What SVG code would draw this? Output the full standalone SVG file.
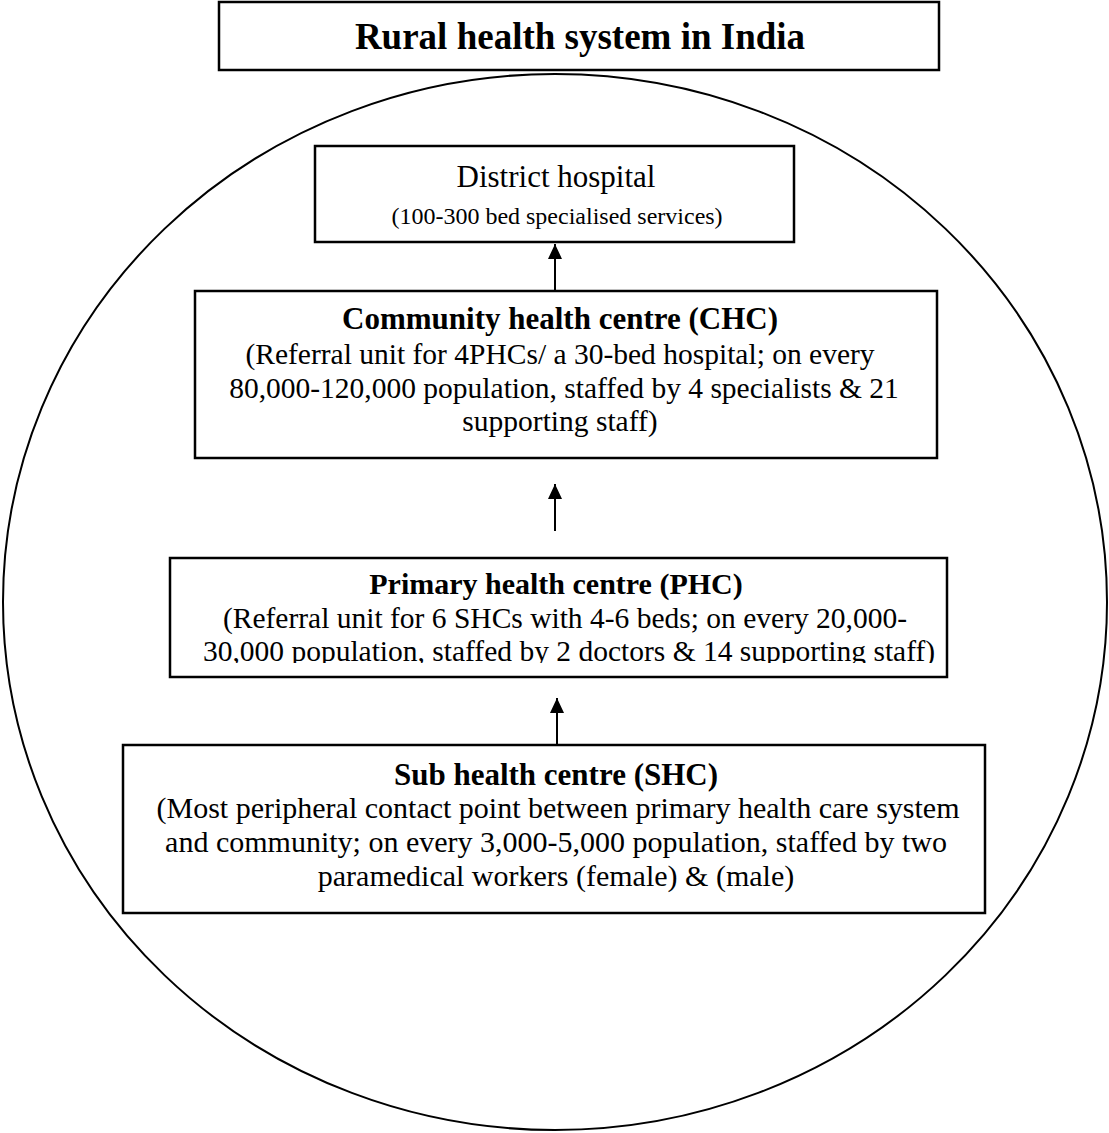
<svg xmlns="http://www.w3.org/2000/svg" width="1109" height="1133" viewBox="0 0 1109 1133">
<style>
  .box { fill: #fff; stroke: #000; stroke-width: 2.5; }
  .t { font-family: "Liberation Serif", "Times New Roman", serif; fill: #000; text-anchor: middle; }
  .b { font-weight: bold; }
  .conn { stroke: #000; stroke-width: 2; fill: none; }
</style>
<defs>
  <marker id="ah" viewBox="0 0 15 14" refX="15" refY="7" markerWidth="15" markerHeight="14" markerUnits="userSpaceOnUse" orient="auto">
    <path d="M0,0 L15,7 L0,14 Z" fill="#000"/>
  </marker>
  <clipPath id="phcclip"><rect x="170" y="558" width="777" height="105"/></clipPath>
</defs>
<rect width="1109" height="1133" fill="#fff"/>
<ellipse cx="555" cy="602" rx="552" ry="528" fill="none" stroke="#000" stroke-width="2"/>
<g id="title">
  <rect class="box" x="219" y="2" width="720" height="68" stroke-width="3"/>
  <text class="t b" x="580" y="49" font-size="37">Rural health system in India</text>
</g>
<g id="district">
  <rect class="box" x="315" y="146" width="479" height="96"/>
  <text class="t" x="556" y="187" font-size="31">District hospital</text>
  <text class="t" x="557" y="224" font-size="24">(100-300 bed specialised services)</text>
</g>
<g id="chc">
  <rect class="box" x="195" y="291" width="742" height="167"/>
  <text class="t b" x="560" y="329" font-size="31">Community health centre (CHC)</text>
  <text class="t" x="560" y="364" font-size="29.5">(Referral unit for 4PHCs/ a 30-bed hospital; on every</text>
  <text class="t" x="564" y="398" font-size="29.5">80,000-120,000 population, staffed by 4 specialists &amp; 21</text>
  <text class="t" x="560" y="431" font-size="29.5">supporting staff)</text>
</g>
<g id="phc">
  <rect class="box" x="170" y="558" width="777" height="119"/>
  <text class="t b" x="556" y="594" font-size="30">Primary health centre (PHC)</text>
  <g clip-path="url(#phcclip)">
    <text class="t" x="565" y="628" font-size="29.5">(Referral unit for 6 SHCs with 4-6 beds; on every 20,000-</text>
    <text class="t" x="569" y="661" font-size="29.5">30,000 population, staffed by 2 doctors &amp; 14 supporting staff)</text>
  </g>
</g>
<g id="shc">
  <rect class="box" x="123" y="745" width="862" height="168"/>
  <text class="t b" x="556" y="785" font-size="31">Sub health centre (SHC)</text>
  <text class="t" x="558" y="818" font-size="30">(Most peripheral contact point between primary health care system</text>
  <text class="t" x="556" y="852" font-size="30">and community; on every 3,000-5,000 population, staffed by two</text>
  <text class="t" x="556" y="886" font-size="30">paramedical workers (female) &amp; (male)</text>
</g>
<g id="connectors">
  <line class="conn" x1="555" y1="291" x2="555" y2="244" marker-end="url(#ah)"/>
  <line class="conn" x1="555" y1="531" x2="555" y2="484" marker-end="url(#ah)"/>
  <line class="conn" x1="557" y1="745" x2="557" y2="698" marker-end="url(#ah)"/>
</g>
</svg>
